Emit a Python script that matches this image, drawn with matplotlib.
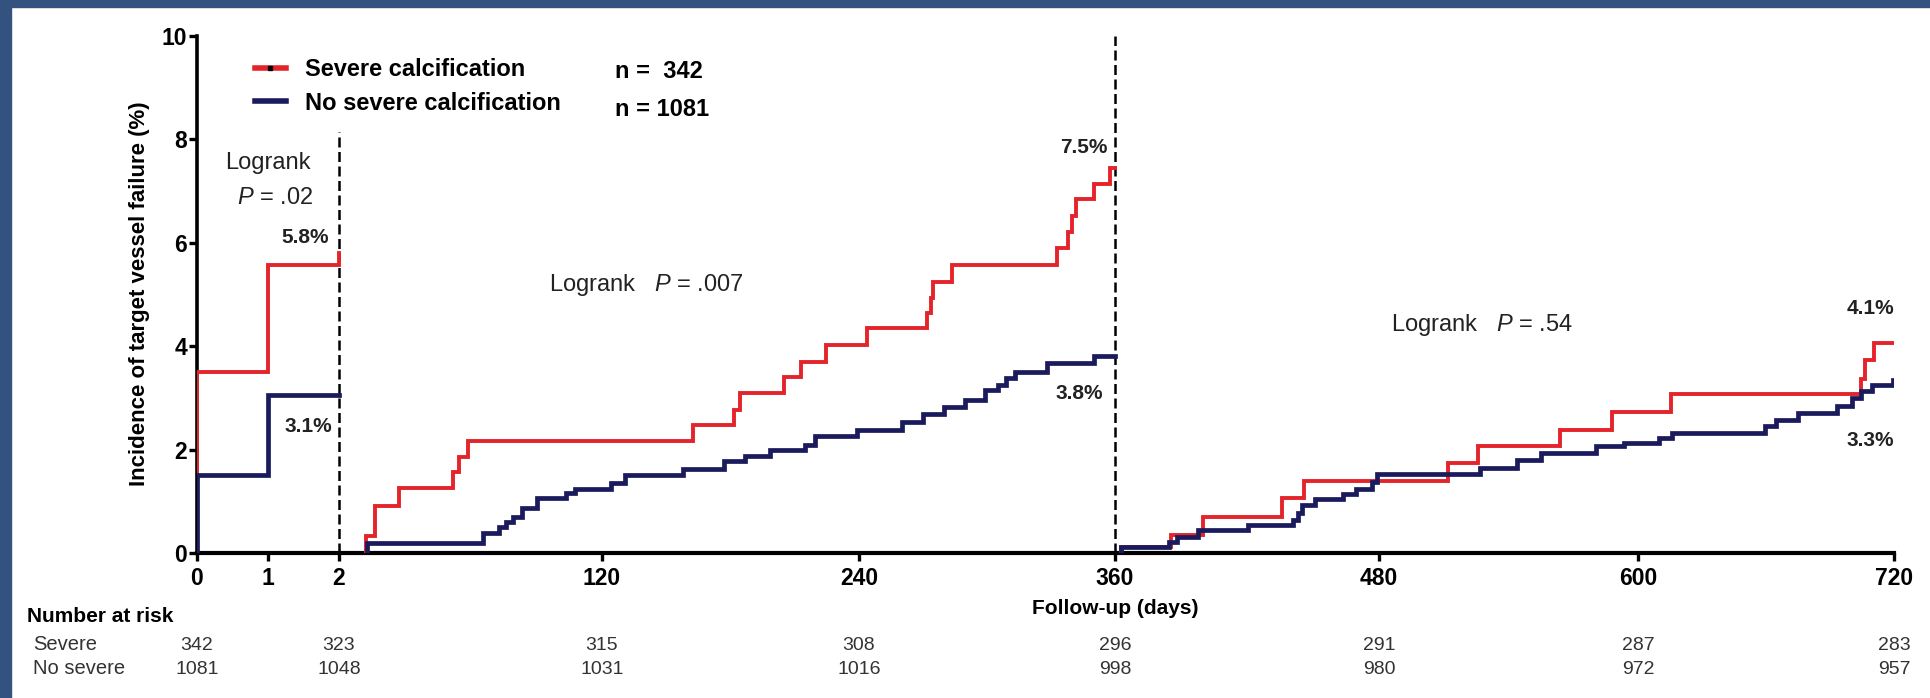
import numpy as np
import matplotlib
matplotlib.use("Agg")
import matplotlib.pyplot as plt
from matplotlib import transforms
from matplotlib.lines import Line2D
from matplotlib.patches import Rectangle

plt.rcParams['font.family'] = ['Liberation Sans', 'DejaVu Sans']
plt.rcParams['mathtext.fontset'] = 'custom'
plt.rcParams['mathtext.rm'] = 'Liberation Sans'
plt.rcParams['mathtext.it'] = 'Liberation Sans:italic'

# broken time axis: days -> relative horizontal position
break_days = [0, 1, 2, 120, 240, 360, 480, 600, 720]
break_pos = [197, 268, 339, 602, 859, 1115, 1379, 1638, 1894]
tick_days = break_days

# cumulative incidence (%), landmark segments 0-2, 2-360, 360-720
sev_d1 = [0, 0, 1, 2]
sev_v1 = [0, 3.5, 5.58, 5.8]
nosev_d1 = [0, 0, 1, 2]
nosev_v1 = [0, 1.5, 3.05, 3.05]

sev_d2 = [14, 14, 18, 29, 53, 56, 60, 162.5, 181.6, 184.4, 205, 213, 224.6, 243.8,
          272, 273.8, 274.7, 283.6, 333, 338, 340, 341.7, 350, 357.6, 360]
sev_v2 = [0, 0.32, 0.91, 1.26, 1.57, 1.86, 2.17, 2.48, 2.77, 3.1, 3.41, 3.70, 4.03, 4.35,
          4.65, 4.94, 5.25, 5.58, 5.89, 6.2, 6.52, 6.84, 7.13, 7.45, 7.45]
nosev_d2 = [14.5, 14.5, 66.6, 74, 77, 80, 84, 91, 104, 108, 124, 130.7, 157.8, 177, 186.8,
            198.4, 214.8, 219.5, 239, 260, 270, 280, 289.7, 299, 305, 309, 313, 328, 350, 360]
nosev_v2 = [0, 0.19, 0.38, 0.5, 0.6, 0.7, 0.87, 1.07, 1.17, 1.24, 1.35, 1.51, 1.62, 1.77, 1.87,
            1.99, 2.09, 2.26, 2.38, 2.53, 2.68, 2.83, 2.96, 3.16, 3.25, 3.39, 3.51, 3.68, 3.81, 3.81]

sev_d3 = [362.7, 362.7, 385.5, 400, 436, 446, 512, 526, 564, 588, 615.5, 704.5, 706.4, 710.6, 720]
sev_v3 = [0, 0.12, 0.35, 0.70, 1.06, 1.40, 1.74, 2.06, 2.38, 2.73, 3.08, 3.37, 3.74, 4.07, 4.07]
nosev_d3 = [362.7, 362.7, 384.5, 388, 397.7, 420.5, 441, 443, 445, 451, 463.6, 469.5, 476.8, 479,
            526.8, 544, 555, 580.5, 593.5, 610, 616, 659.6, 664.8, 675, 693.4, 700.4, 704.6,
            709.8, 719.6, 720]
nosev_v3 = [0, 0.12, 0.21, 0.30, 0.45, 0.54, 0.64, 0.77, 0.93, 1.04, 1.14, 1.24, 1.38, 1.53,
            1.64, 1.80, 1.93, 2.06, 2.13, 2.22, 2.33, 2.45, 2.57, 2.70, 2.84, 3.0, 3.13,
            3.25, 3.35, 3.35]

landmarks = [2, 360]
landmark_tops = [8.15, 10]

risk_days = [0, 2, 120, 240, 360, 480, 600, 720]
risk_severe = [342, 323, 315, 308, 296, 291, 287, 283]
risk_nosevere = [1081, 1048, 1031, 1016, 998, 980, 972, 957]

RED = '#e3252b'
NAVY = '#1a1a5c'
FRAME = '#34527f'


def fwd(d):
    return np.interp(d, break_days, break_pos)


def inv(p):
    return np.interp(p, break_pos, break_days)


fig = plt.figure(figsize=(19.31, 6.98), dpi=100)
W, H = 1931, 698
ax = fig.add_axes([197 / W, (H - 553) / H, (1894 - 197) / W, (553 - 36) / H])
ax.set_xscale('function', functions=(fwd, inv))

for d, v in [(sev_d1, sev_v1), (sev_d2, sev_v2), (sev_d3, sev_v3)]:
    ax.step(d, v, where='post', color=RED, lw=2.8, solid_joinstyle='miter', zorder=3)
for d, v in [(nosev_d1, nosev_v1), (nosev_d2, nosev_v2), (nosev_d3, nosev_v3)]:
    ax.step(d, v, where='post', color=NAVY, lw=3.4, solid_joinstyle='miter', zorder=4)

for xd, top in zip(landmarks, landmark_tops):
    ax.axvline(xd, ymin=0, ymax=top / 10, color='black', lw=1.8,
               linestyle=(0, (4, 1.8)), zorder=2)

ax.set_xlim(0, 720)
ax.set_ylim(0, 10)
ax.set_xticks(tick_days)
ax.set_xticklabels([str(t) for t in tick_days])
ax.set_yticks([0, 2, 4, 6, 8, 10])
ax.minorticks_off()
for s in ['top', 'right']:
    ax.spines[s].set_visible(False)
ax.spines['left'].set_linewidth(2.6)
ax.spines['bottom'].set_linewidth(3.0)
ax.tick_params(axis='x', length=6, width=2.4, direction='out', pad=4, labelsize=16.5)
ax.tick_params(axis='y', length=6, width=2.4, direction='out', pad=1, labelsize=16.5)
for lab in ax.get_xticklabels() + ax.get_yticklabels():
    lab.set_fontweight('bold')

fig.text(139 / W, (H - 294) / H, 'Incidence of target vessel failure (%)', rotation=90,
         ha='center', va='center', fontsize=16, fontweight='bold')

# legend
handles = [Line2D([], [], color=RED, lw=4, marker='s', markersize=2.5,
                  markerfacecolor='black', markeredgecolor='black'),
           Line2D([], [], color=NAVY, lw=4)]
fig.legend(handles, ['Severe calcification', 'No severe calcification'],
           loc='upper left', bbox_to_anchor=(255 / W, 1 - 58 / H), frameon=False,
           prop={'weight': 'bold', 'size': 17}, handlelength=1.3, handletextpad=0.8,
           labelspacing=0.45, borderpad=0, borderaxespad=0)
fig.text(615 / W, 1 - 72 / H, 'n =  342', fontsize=17, fontweight='bold', va='center')
fig.text(615 / W, 1 - 110 / H, 'n = 1081', fontsize=17, fontweight='bold', va='center')

# annotations
txt = dict(fontsize=17, color='#222222')
ax.text(1.0, 7.55, 'Logrank', ha='center', va='center', **txt)
ax.text(1.1, 6.87, r'$\mathit{P}$ = .02', ha='center', va='center', **txt)
ax.text(96, 5.18, r'Logrank   $\mathit{P}$ = .007', ha='left', va='center', **txt)
ax.text(485.6, 4.41, r'Logrank   $\mathit{P}$ = .54', ha='left', va='center', **txt)

pct = dict(fontsize=15, fontweight='bold', color='#222222', va='center', ha='right')
ax.text(1.86, 6.11, '5.8%', **pct)
ax.text(1.9, 2.44, '3.1%', **pct)
ax.text(356.7, 7.85, '7.5%', **pct)
ax.text(354.4, 3.09, '3.8%', **pct)
ax.text(720, 4.72, '4.1%', **pct)
ax.text(720, 2.17, '3.3%', **pct)

blend = transforms.blended_transform_factory(ax.transData, fig.transFigure)
ax.text(360, (H - 609) / H, 'Follow-up (days)', ha='center', va='center', fontsize=15,
        fontweight='bold', transform=blend, clip_on=False)

# number at risk table
fig.text(27 / W, (H - 617) / H, 'Number at risk', fontsize=15, fontweight='bold',
         va='center', ha='left')
fig.text(33 / W, (H - 644) / H, 'Severe', fontsize=14.5, va='center', ha='left', color='#333333')
fig.text(33 / W, (H - 668) / H, 'No severe', fontsize=14.5, va='center', ha='left', color='#333333')
for d, a, b in zip(risk_days, risk_severe, risk_nosevere):
    ax.text(d, (H - 645) / H, str(a), transform=blend, ha='center', va='center',
            fontsize=14, color='#333333', clip_on=False)
    ax.text(d, (H - 670) / H, str(b), transform=blend, ha='center', va='center',
            fontsize=14, color='#333333', clip_on=False)

# blue frame on top and left edges
fig.add_artist(Rectangle((0, 1 - 7 / H), 1, 7 / H, transform=fig.transFigure,
                         color=FRAME, zorder=10))
fig.add_artist(Rectangle((0, 0), 11 / W, 1, transform=fig.transFigure,
                         color=FRAME, zorder=10))

fig.savefig('out.png', dpi=100, facecolor='white')
